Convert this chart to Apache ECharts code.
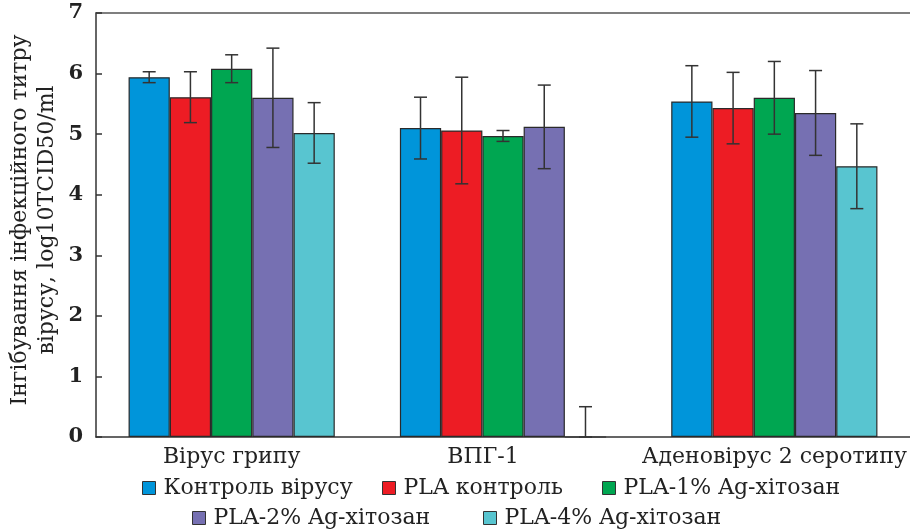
<!DOCTYPE html>
<html>
<head>
<meta charset="utf-8">
<script src="https://cdn.jsdelivr.net/npm/echarts@6/dist/echarts.min.js"></script>
<style>html,body{margin:0;padding:0;background:#fff}#c{width:910px;height:530px}</style>
</head>
<body>
<div id="c"></div>
<script>
var categories = ['Вірус грипу', 'ВПГ-1', 'Аденовірус 2 серотипу'];
var seriesNames = ['Контроль вірусу', 'PLA контроль', 'PLA-1% Ag-хітозан', 'PLA-2% Ag-хітозан', 'PLA-4% Ag-хітозан'];
var controlVirus = [5.94, 5.10, 5.54];
var controlVirusErr = [0.09, 0.51, 0.59];
var plaControl = [5.61, 5.06, 5.43];
var plaControlErr = [0.42, 0.88, 0.59];
var pla1 = [6.08, 4.97, 5.60];
var pla1Err = [0.23, 0.09, 0.60];
var pla2 = [5.60, 5.12, 5.35];
var pla2Err = [0.82, 0.69, 0.70];
var pla4 = [5.02, 0, 4.47];
var pla4Err = [0.50, 0.50, 0.70];
var yTicks = [0, 1, 2, 3, 4, 5, 6, 7];

var values = [controlVirus, plaControl, pla1, pla2, pla4];
var errors = [controlVirusErr, plaControlErr, pla1Err, pla2Err, pla4Err];
var colors = ['#0095da', '#ed1c24', '#00a651', '#7670b2', '#58c5d0'];
var FONT = '"DejaVu Serif", serif';
var GAP = 0.24;
var N = values.length;

function makeRender(idx) {
  return function (params, api) {
    var x = api.value(0), v = api.value(1), e = api.value(2);
    var band = api.size([1, 0])[0];
    var group = band * (1 - GAP);
    var bw = group / N;
    var cx = api.coord([x, v])[0] - group / 2 + bw * (idx + 0.5);
    var top = api.coord([x, v + e])[1];
    var bot = api.coord([x, Math.max(0, v - e)])[1];
    var hw = 6.5;
    var st = { stroke: '#333', lineWidth: 1.5 };
    return {
      type: 'group',
      children: [
        { type: 'line', shape: { x1: cx, y1: top, x2: cx, y2: bot }, style: st },
        { type: 'line', shape: { x1: cx - hw, y1: top, x2: cx + hw, y2: top }, style: st },
        { type: 'line', shape: { x1: cx - hw, y1: bot, x2: cx + hw, y2: bot }, style: st }
      ]
    };
  };
}

var series = [];
values.forEach(function (vals, i) {
  series.push({
    type: 'bar',
    name: seriesNames[i],
    data: vals,
    barGap: '0%',
    barCategoryGap: (GAP * 100) + '%',
    itemStyle: { color: colors[i], borderColor: '#2a2a2a', borderWidth: 1.2 },
    emphasis: { disabled: true }
  });
});
values.forEach(function (vals, i) {
  series.push({
    type: 'custom',
    name: 'err' + i,
    renderItem: makeRender(i),
    data: vals.map(function (v, j) { return [j, v, errors[i][j]]; }),
    encode: { x: 0, y: 1 },
    z: 5,
    silent: true
  });
});

var legendCommon = {
  orient: 'horizontal',
  icon: 'rect',
  padding: 0,
  itemWidth: 13,
  itemHeight: 13,
  selectedMode: false,
  itemStyle: { borderColor: '#333', borderWidth: 1 },
  textStyle: { fontFamily: FONT, fontSize: 22, color: '#222', padding: [0, 0, 0, 3] }
};
var legendLefts = [142, 382, 602, 192, 483];
var legendTops = [477, 477, 477, 507, 507];
var legends = seriesNames.map(function (n, i) {
  return Object.assign({}, legendCommon, { data: [n], left: legendLefts[i], top: legendTops[i] });
});

var chart = echarts.init(document.getElementById('c'), null, { renderer: 'canvas' });
chart.setOption({
  animation: false,
  backgroundColor: '#fff',
  grid: { left: 96, right: 0, top: 13, bottom: 93 },
  legend: legends,
  xAxis: [{
    type: 'category',
    data: categories,
    axisLine: { lineStyle: { color: '#333', width: 1.5 } },
    axisTick: { show: false },
    axisLabel: {
      interval: 0, hideOverlap: false,
      fontFamily: FONT, fontSize: 22, color: '#222', margin: 9,
      formatter: function (v) { return v === 'ВПГ-1' ? '{s|' + v + '}' : v; },
      rich: { s: { fontFamily: FONT, fontSize: 22, color: '#222', padding: [0, 40, 0, 0] } }
    }
  }, {
    type: 'category',
    data: categories,
    position: 'top',
    axisLine: { lineStyle: { color: '#555', width: 1.5 } },
    axisTick: { show: false },
    axisLabel: { show: false }
  }],
  yAxis: {
    type: 'value',
    min: yTicks[0],
    max: yTicks[yTicks.length - 1],
    interval: 1,
    axisLine: { show: true, lineStyle: { color: '#333', width: 1.5 } },
    axisTick: { show: true, inside: true, length: 6, lineStyle: { color: '#333', width: 1.5 } },
    splitLine: { show: false },
    axisLabel: { fontFamily: FONT, fontSize: 21, fontWeight: 'bold', color: '#222', margin: 13 }
  },
  graphic: [{
    type: 'text',
    x: 34,
    y: 220,
    rotation: Math.PI / 2,
    style: {
      text: 'Інгібування інфекційного титру\nвірусу, log10TCID50/ml',
      font: '22px ' + FONT,
      fill: '#222',
      textAlign: 'center',
      textVerticalAlign: 'middle',
      lineHeight: 27
    }
  }],
  series: series
});
</script>
</body>
</html>
